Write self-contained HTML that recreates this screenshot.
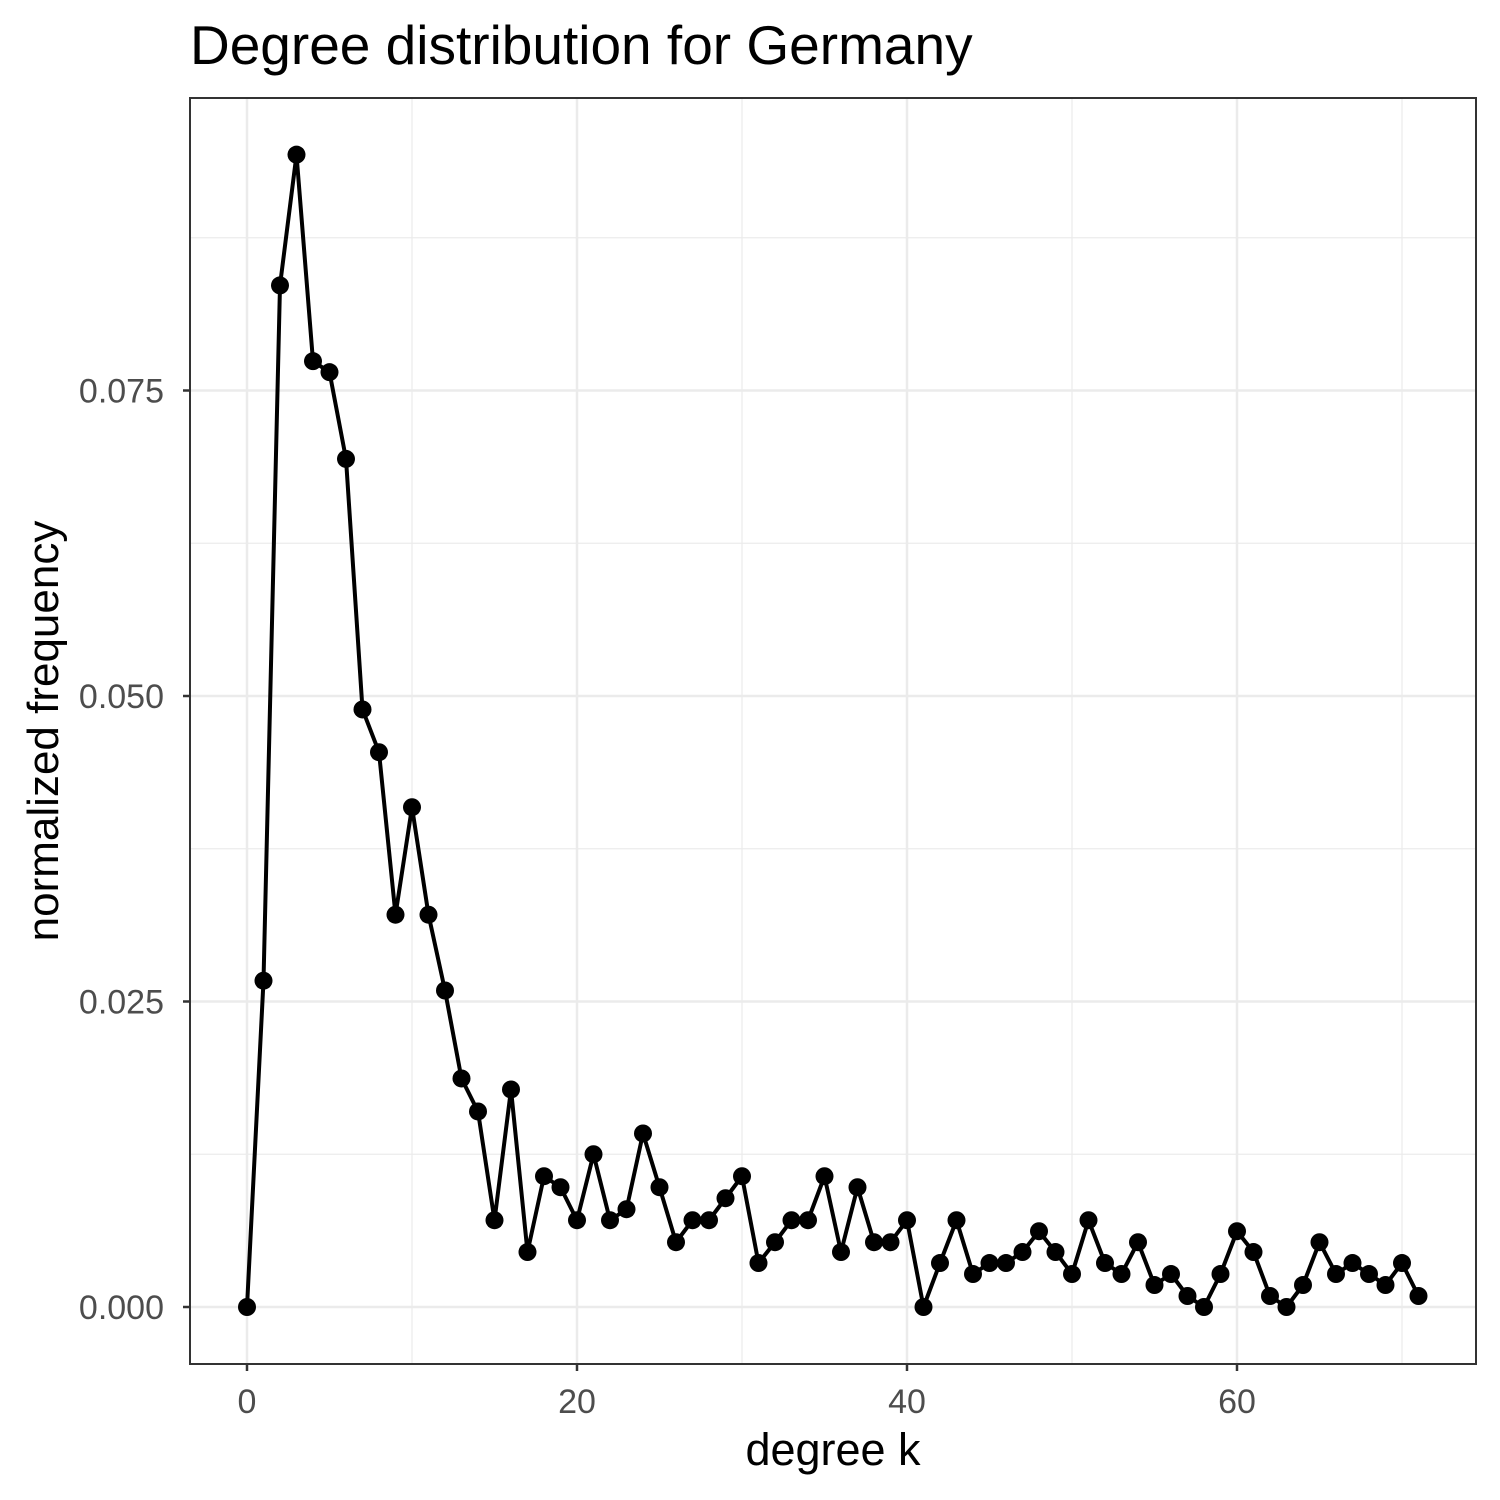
<!DOCTYPE html>
<html><head><meta charset="utf-8"><style>
html,body{margin:0;padding:0;background:#fff}
svg{display:block;font-family:"Liberation Sans",sans-serif}
</style></head><body>
<svg id="chart" width="1500" height="1500" viewBox="0 0 1500 1500">
<rect width="1500" height="1500" fill="#fff"/>
<text x="190" y="64" font-size="55" fill="#000">Degree distribution for Germany</text>
<g id="grid"></g>
<g id="series"></g>
<rect x="190" y="98" width="1286" height="1266" fill="none" stroke="#333" stroke-width="2"/>
<g id="axes"></g>
<text x="833" y="1465" font-size="45" text-anchor="middle" fill="#000">degree k</text>
<text transform="translate(58,731) rotate(-90)" font-size="44" text-anchor="middle" fill="#000">normalized frequency</text>
</svg>
<script>
const degrees = [];
for (let i = 0; i <= 71; i++) degrees.push(i);
const freqValues = [0,0.0267,0.0836,0.0943,0.0774,0.0765,0.0694,0.0489,0.0454,0.0321,0.0409,0.0321,0.0259,0.0187,0.0160,0.0071,0.0178,0.0045,0.0107,0.0098,0.0071,0.0125,0.0071,0.0080,0.0142,0.0098,0.0053,0.0071,0.0071,0.0089,0.0107,0.0036,0.0053,0.0071,0.0071,0.0107,0.0045,0.0098,0.0053,0.0053,0.0071,0,0.0036,0.0071,0.0027,0.0036,0.0036,0.0045,0.0062,0.0045,0.0027,0.0071,0.0036,0.0027,0.0053,0.0018,0.0027,0.0009,0,0.0027,0.0062,0.0045,0.0009,0,0.0018,0.0053,0.0027,0.0036,0.0027,0.0018,0.0036,0.0009];
const xTicks = [0,20,40,60];
const xMinor = [10,30,50,70];
const yTicks = [0,0.025,0.05,0.075];
const yTickLabels = ["0.000","0.025","0.050","0.075"];
const yMinor = [0.0125,0.0375,0.0625,0.0875];

const NS = "http://www.w3.org/2000/svg";
const xS = v => 247 + v * 16.5;
const yS = v => 1307 - v * 12220;
function mk(tag, attrs, parent){const e=document.createElementNS(NS,tag);for(const k in attrs)e.setAttribute(k,attrs[k]);parent.appendChild(e);return e;}
const grid=document.getElementById('grid'), axes=document.getElementById('axes'), series=document.getElementById('series');

yMinor.forEach(v=>{const l=mk('line',{x1:190,x2:1476,y1:yS(v),y2:yS(v),stroke:'#ebebeb','stroke-width':1.2},grid);

});
xMinor.forEach(v=>{const l=mk('line',{x1:xS(v),x2:xS(v),y1:98,y2:1364,stroke:'#ebebeb','stroke-width':1.2},grid);

});
yTicks.forEach((v,i)=>{const l=mk('line',{x1:190,x2:1476,y1:yS(v),y2:yS(v),stroke:'#ebebeb','stroke-width':2.5},grid);


const t=mk('line',{x1:183,x2:190,y1:yS(v),y2:yS(v),stroke:'#333','stroke-width':2.5},axes);


const tx=mk('text',{x:164,y:yS(v)+12,'font-size':34,fill:'#4d4d4d','text-anchor':'end'},axes);
tx.textContent=yTickLabels[i];

});
xTicks.forEach(v=>{const l=mk('line',{x1:xS(v),x2:xS(v),y1:98,y2:1364,stroke:'#ebebeb','stroke-width':2.5},grid);


const t=mk('line',{x1:xS(v),x2:xS(v),y1:1364,y2:1371,stroke:'#333','stroke-width':2.5},axes);


const tx=mk('text',{x:xS(v),y:1413,'font-size':34,fill:'#4d4d4d','text-anchor':'middle'},axes);
tx.textContent=String(v);

});

const pts=degrees.map((d,i)=>xS(d)+','+yS(freqValues[i])).join(' ');
const pl=mk('polyline',{points:pts,fill:'none',stroke:'#000','stroke-width':4,'stroke-linejoin':'round'},series);


degrees.forEach((d,i)=>{const c=mk('circle',{cx:xS(d),cy:yS(freqValues[i]),r:9,fill:'#000'},series);

});
</script>
</body></html>
